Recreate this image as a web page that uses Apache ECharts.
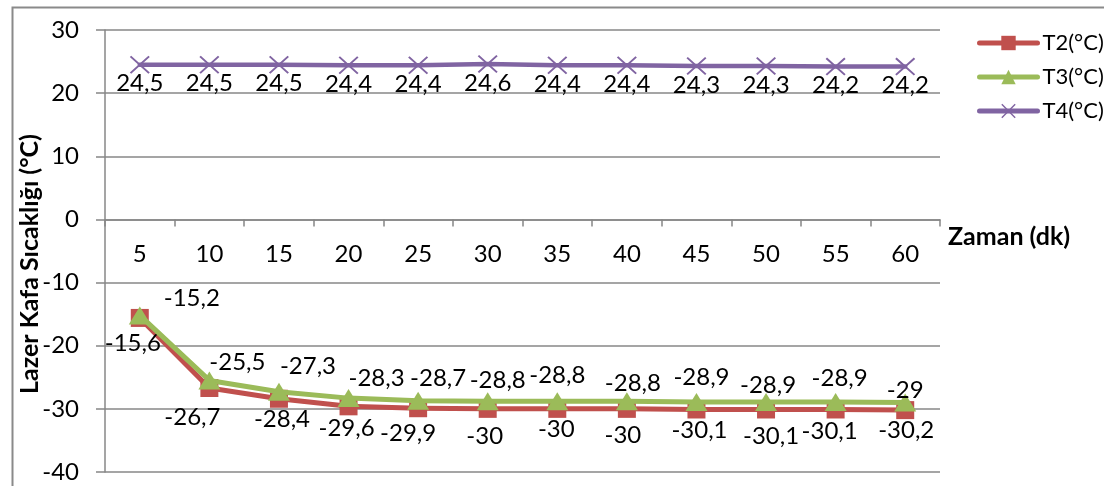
<!DOCTYPE html>
<html>
<head>
<meta charset="utf-8">
<script src="https://cdn.jsdelivr.net/npm/echarts@6/dist/echarts.min.js"></script>
<style>
html,body{margin:0;padding:0;background:#fff;}
#chart{width:1104px;height:486px;}
</style>
</head>
<body>
<div id="chart"></div>
<script>
const categories = ['5','10','15','20','25','30','35','40','45','50','55','60'];
const t2Values = [-15.6, -26.7, -28.4, -29.6, -29.9, -30, -30, -30, -30.1, -30.1, -30.1, -30.2];
const t3Values = [-15.2, -25.5, -27.3, -28.3, -28.7, -28.8, -28.8, -28.8, -28.9, -28.9, -28.9, -29];
const t4Values = [24.5, 24.5, 24.5, 24.4, 24.4, 24.6, 24.4, 24.4, 24.3, 24.3, 24.2, 24.2];
const yTicks = { min: -40, max: 30, interval: 10 };
const seriesNames = ['T2(°C)', 'T3(°C)', 'T4(°C)'];

// label placement (style only)
const t2LabelOffset = [[-7,25],[-17,29],[3,21],[-2,22],[-10,25],[-3,27],[-1,20],[-4,26],[3,21],[5,27],[-6,22],[1,20]];
const t3LabelOffset = [[52,-17],[28,-18],[29,-26],[28,-20],[20,-22],[10,-21],[0,-26],[6,-18],[5,-25],[2,-17],[4,-24],[0,-12]];

const FONT = 'Lato';
const FS = 24;
const fmt = p => String(p.value).replace('.', ',');
const crossPath = 'path://M0,0.7L0.7,0L10,9.3L9.3,10Z M9.3,0L10,0.7L0.7,10L0,9.3Z';

const gridTop = 30, gridBottom = 14, chartH = 486;
const plotH = chartH - gridTop - gridBottom;
const zeroFromBottom = plotH * (0 - yTicks.min) / (yTicks.max - yTicks.min);

function withOffsets(values, offsets) {
  return values.map((v, i) => ({
    value: v,
    label: { offset: offsets[i] }
  }));
}

const chart = echarts.init(document.getElementById('chart'));
chart.setOption({
  backgroundColor: '#fff',
  animation: false,
  textStyle: { fontFamily: FONT },
  grid: { left: 105, right: 164, top: gridTop, bottom: gridBottom, containLabel: false, outerBoundsMode: 'none' },
  legend: {
    orient: 'vertical',
    left: 972,
    top: 27,
    itemWidth: 58,
    itemHeight: 18,
    itemGap: 12,
    lineStyle: { width: 5, cap: 'round' },
    textStyle: { fontFamily: FONT, fontSize: 22, color: '#000' },
    data: seriesNames
  },
  xAxis: {
    type: 'category',
    data: categories,
    boundaryGap: true,
    position: 'bottom',
    offset: -zeroFromBottom,
    axisLine: { onZero: false, lineStyle: { color: '#878787', width: 1.5 } },
    axisTick: { show: true, length: 7, lineStyle: { color: '#878787', width: 1.5 } },
    axisLabel: { margin: 23, fontFamily: FONT, fontSize: FS, color: '#000' },
    splitLine: { show: false }
  },
  yAxis: {
    type: 'value',
    min: yTicks.min,
    max: yTicks.max,
    interval: yTicks.interval,
    axisLine: { show: true, lineStyle: { color: '#878787', width: 1.5 } },
    axisTick: { show: true, length: 9, lineStyle: { color: '#878787', width: 1.5 } },
    axisLabel: { margin: 26, fontFamily: FONT, fontSize: FS, color: '#000' },
    splitLine: { show: true, lineStyle: { color: '#878787', width: 1.5 } }
  },
  graphic: [
    { type: 'rect', left: 10, top: 5, shape: { width: 1200, height: 600 }, style: { fill: 'none', stroke: '#8a8a8a', lineWidth: 2 }, silent: true, z: -10 },
    { type: 'text', x: 30, y: 264, rotation: Math.PI / 2, style: { text: 'Lazer Kafa Sıcaklığı (°C)', font: 'bold 25px ' + FONT, fill: '#000', align: 'center', verticalAlign: 'middle' } },
    { type: 'text', x: 948, y: 237, style: { text: 'Zaman (dk)', font: 'bold 25px ' + FONT, fill: '#000', align: 'left', verticalAlign: 'middle' } }
  ],
  series: [
    {
      name: seriesNames[0],
      type: 'line',
      data: withOffsets(t2Values, t2LabelOffset),
      symbol: 'rect',
      symbolSize: 18,
      lineStyle: { color: '#C0504D', width: 5, cap: 'round', join: 'round' },
      itemStyle: { color: '#C0504D' },
      label: { show: true, position: 'inside', formatter: fmt, fontFamily: FONT, fontSize: FS, color: '#000' },
      z: 2
    },
    {
      name: seriesNames[1],
      type: 'line',
      data: withOffsets(t3Values, t3LabelOffset),
      symbol: 'triangle',
      symbolSize: [22, 18],
      lineStyle: { color: '#9BBB59', width: 5, cap: 'round', join: 'round' },
      itemStyle: { color: '#9BBB59' },
      label: { show: true, position: 'inside', formatter: fmt, fontFamily: FONT, fontSize: FS, color: '#000' },
      z: 3
    },
    {
      name: seriesNames[2],
      type: 'line',
      data: t4Values,
      symbol: crossPath,
      symbolSize: [20, 18],
      lineStyle: { color: '#8064A2', width: 4.5, cap: 'round', join: 'round' },
      itemStyle: { color: '#8064A2' },
      label: { show: true, position: 'bottom', distance: -2, formatter: fmt, fontFamily: FONT, fontSize: FS, color: '#000' },
      z: 4
    }
  ]
});
</script>
</body>
</html>
